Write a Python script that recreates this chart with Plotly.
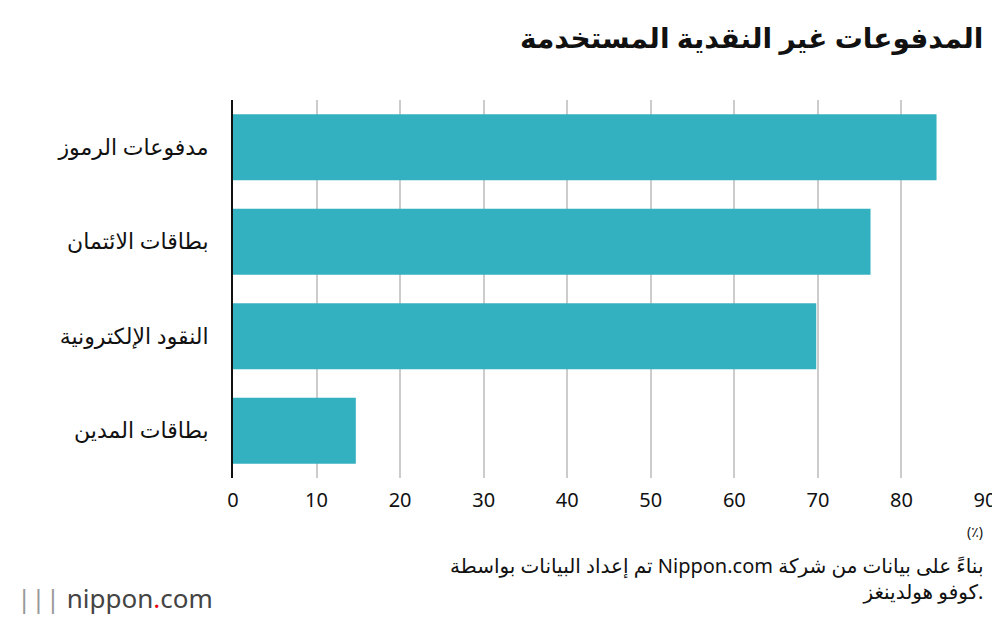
import plotly.graph_objects as go

categories = ["مدفوعات الرموز", "بطاقات الائتمان", "النقود الإلكترونية", "بطاقات المدين"]
values = [84.2, 76.3, 69.8, 14.7]
tick_vals = [0, 10, 20, 30, 40, 50, 60, 70, 80, 90]

fig = go.Figure()
fig.add_trace(go.Bar(
    x=values, y=categories, orientation="h",
    marker=dict(color="#34b1c0", line=dict(width=0)),
    width=0.7, hoverinfo="x+y",
))

fig.update_layout(
    width=1000, height=620,
    paper_bgcolor="white", plot_bgcolor="white",
    margin=dict(l=225, r=15, t=92, b=150),
    font=dict(family="Noto Sans, DejaVu Sans", color="#111"),
    showlegend=False,
    bargap=0.3,
    xaxis=dict(range=[0, 90], tickvals=tick_vals, showgrid=True,
               gridcolor="#cccccc", gridwidth=1.5, zeroline=False,
               tickfont=dict(size=20, color="#111"), ticks="", ticklabelstandoff=8),
    yaxis=dict(autorange="reversed", showline=True, linecolor="#111",
               linewidth=2, tickfont=dict(size=22, color="#111"),
               ticks="", ticklabelstandoff=18),
    annotations=[
        dict(text="<b>المدفوعات غير النقدية المستخدمة</b>", xref="paper", yref="paper",
             x=1.0, y=-0.0, xanchor="right", yanchor="top", showarrow=False,
             font=dict(size=28, color="#111"), yshift=(620 - 150) - 8 + 0),
        dict(text="(٪)", xref="paper", yref="paper", x=1.0, y=0, xanchor="right",
             yanchor="top", showarrow=False, font=dict(size=14, color="#111"), yshift=-42),
        dict(text="تم إعداد البيانات بواسطة Nippon.com بناءً على بيانات من شركة<br>كوفو هولدينغز.",
             xref="paper", yref="paper", x=1.0, y=0, xanchor="right", yanchor="top",
             align="right", showarrow=False, font=dict(size=20, color="#111"), yshift=-72),
        dict(text="<span style='color:#999'>||| </span><span style='color:#444'>nippon</span><span style='color:#e60012'>.</span><span style='color:#444'>com</span>",
             xref="paper", yref="paper", x=-0.225 / 0.76 * 0 - 0.29, y=0, xanchor="left",
             yanchor="top", showarrow=False, font=dict(size=26), yshift=-100),
    ],
)

fig.write_html("out.html")
